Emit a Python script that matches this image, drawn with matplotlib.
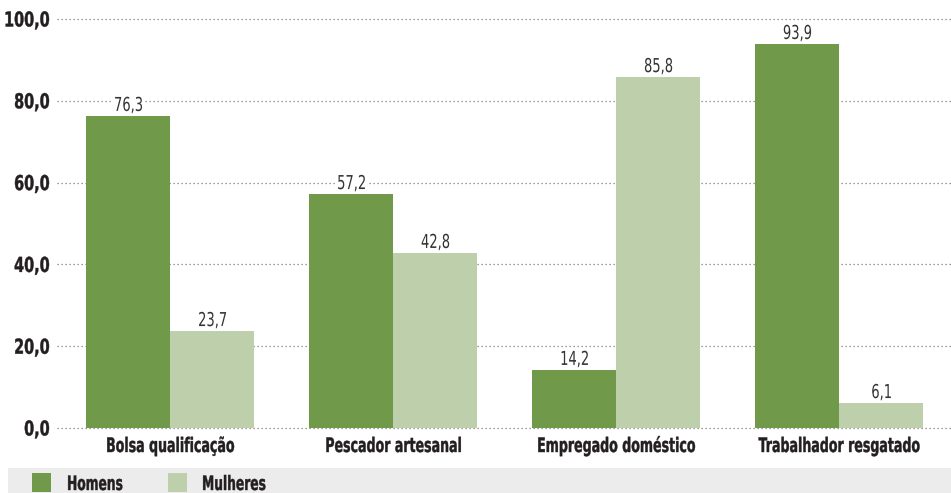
import matplotlib
matplotlib.use("Agg")
import matplotlib.pyplot as plt
import numpy as np
from matplotlib.textpath import TextPath
from matplotlib.patches import PathPatch, Rectangle
from matplotlib.font_manager import FontProperties
from matplotlib.transforms import Affine2D

categorias = ["Bolsa qualificação", "Pescador artesanal", "Empregado doméstico", "Trabalhador resgatado"]
homens = [76.3, 57.2, 14.2, 93.9]
mulheres = [23.7, 42.8, 85.8, 6.1]
yticks = [0, 20, 40, 60, 80, 100]
legenda = ["Homens", "Mulheres"]

cor_h = "#71994a"
cor_m = "#bed0ab"
txt = "#231f20"

W, H = 951, 493
fig = plt.figure(figsize=(W/100, H/100), dpi=100)
ax = fig.add_axes([57/W, 65/H, 1 - 57/W, 409/H])

def fmt(v):
    return f"{v:.1f}".replace('.', ',')

# texto "condensado": DejaVu espremido na horizontal (nao ha fonte condensada instalada)
def ctext(px, py, s, em, bold=False, color=txt, ha='left', va='baseline', sx=0.69, bg=None):
    prop = FontProperties(family='DejaVu Sans', weight='bold' if bold else 'normal')
    tp = TextPath((0, 0), s, size=em, prop=prop)
    cap = 0.729 * em
    x0 = 0
    wd = tp.get_extents().x1 * sx
    if ha == 'center':
        x0 = -wd / 2
    elif ha == 'right':
        x0 = -wd
    y0 = 0
    if va == 'center':
        y0 = -cap / 2
    tr = Affine2D().scale(sx, 1).translate(px + x0, py + y0).scale(1/W, 1/H) + fig.transFigure
    if bg is not None:
        fig.patches.append(Rectangle(((px + x0 - 2)/W, (py + y0 - 3)/H), (wd + 4)/W, (cap + 5)/H,
                                     transform=fig.transFigure, facecolor=bg, edgecolor='none', zorder=4))
    fig.patches.append(PathPatch(tp, transform=tr, facecolor=color, edgecolor=color,
                                 lw=0.3 if bold else 0, zorder=5))

x = np.arange(len(categorias))
w = 0.377
b1 = ax.bar(x - w/2, homens, w, color=cor_h, zorder=3)
b2 = ax.bar(x + w/2, mulheres, w, color=cor_m, zorder=3)

for t in yticks:
    ax.axhline(t, color='#7a7a7a', lw=0.9, ls=(0, (1, 2.2)), zorder=1, clip_on=False)

ax.set_xlim(-0.507, 3.502)
ax.set_ylim(0, 100)
ax.set_xticks([])
ax.set_yticks([])
for s in ax.spines.values():
    s.set_visible(False)

# rotulos dos valores
for bars, vals in [(b1, homens), (b2, mulheres)]:
    for r, v in zip(bars, vals):
        px, py = ax.transData.transform((r.get_x() + r.get_width()/2, v))
        ctext(px, py + 5, fmt(v), 19.2, color='#333333', ha='center', sx=0.68, bg='white')

# eixo y
for t in yticks:
    px, py = ax.transData.transform((ax.get_xlim()[0], t))
    ctext(px - 8, py, fmt(t), 20.6, bold=True, ha='right', va='center', sx=0.7)

# categorias
for i, c in enumerate(categorias):
    px, _ = ax.transData.transform((x[i], 0))
    ctext(px, 41, c, 20.0, bold=True, ha='center', sx=0.63)

# faixa da legenda
fig.patches.append(Rectangle((8/W, 0), (W - 8)/W, 25/H, transform=fig.transFigure,
                             facecolor='#ececec', edgecolor='none', zorder=0))
for xq, xt, cor, nome in [(32, 67, cor_h, legenda[0]), (168, 202, cor_m, legenda[1])]:
    fig.patches.append(Rectangle((xq/W, 1/H), 19/W, 19/H, transform=fig.transFigure,
                                 facecolor=cor, edgecolor='none', zorder=1))
    ctext(xt, 3, nome, 19.8, bold=True, sx=0.62)

fig.savefig("out.png", dpi=100)
